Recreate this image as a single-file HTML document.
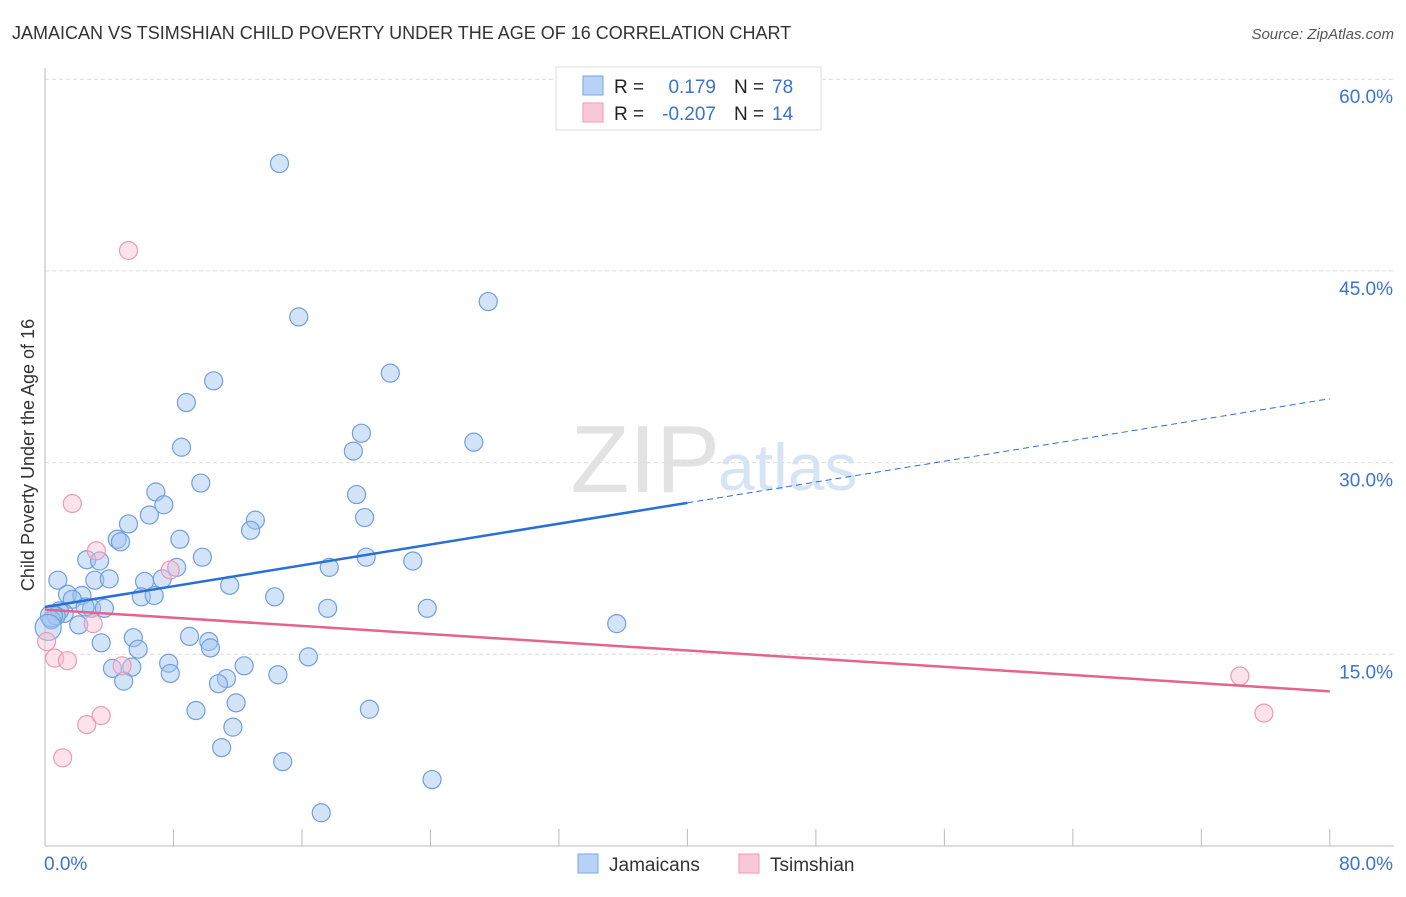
<!DOCTYPE html>
<html><head><meta charset="utf-8"><style>
body{margin:0;background:#fff;font-family:"Liberation Sans",sans-serif;}
svg text{font-family:"Liberation Sans",sans-serif;}
</style></head><body>
<svg id="chart" width="1406" height="892">
<text x="12" y="39" font-size="18" fill="#333">JAMAICAN VS TSIMSHIAN CHILD POVERTY UNDER THE AGE OF 16 CORRELATION CHART</text>
<text x="1394" y="39" font-size="15" fill="#555" font-style="italic" text-anchor="end">Source: ZipAtlas.com</text>
<text x="720" y="492" font-size="96" fill="#e2e2e2" font-family="Liberation Serif" text-anchor="end">ZIP</text>
<text x="718" y="490" font-size="66" fill="#d6e4f5">atlas</text>
<g id="grid"></g><g id="axes"></g><g id="marks"></g>
<text transform="translate(34,455) rotate(-90)" font-size="18" fill="#333" text-anchor="middle">Child Poverty Under the Age of 16</text>
<g>
<rect x="556" y="67" width="265" height="63" fill="#fff" stroke="#ddd"/>
<rect x="583" y="76" width="20" height="19" fill="#b8d3f5" stroke="#7aa6e6"/>
<rect x="583" y="103" width="20" height="19" fill="#f9c8d8" stroke="#ee9ab7"/>
<text x="614" y="93" font-size="19" fill="#222">R =</text><text x="716" y="93" font-size="19" fill="#3a73d0" text-anchor="end">0.179</text>
<text x="734" y="93" font-size="19" fill="#222">N =</text><text x="772" y="93" font-size="19" fill="#3a73d0">78</text>
<text x="614" y="120" font-size="19" fill="#222">R =</text><text x="716" y="120" font-size="19" fill="#3a73d0" text-anchor="end">-0.207</text>
<text x="734" y="120" font-size="19" fill="#222">N =</text><text x="772" y="120" font-size="19" fill="#3a73d0">14</text>
</g>
<g>
<rect x="578" y="854" width="20" height="19" fill="#b8d3f5" stroke="#7aa6e6"/>
<text x="609" y="871" font-size="19" fill="#333">Jamaicans</text>
<rect x="739" y="854" width="20" height="19" fill="#f9c8d8" stroke="#ee9ab7"/>
<text x="770" y="871" font-size="19" fill="#333">Tsimshian</text>
</g>
</svg>
<script>
const yTicks=[15,30,45,60];
const xTickLabels=["0.0%","80.0%"];
const blueX=[14.6,27.6,15.8,21.5,10.5,8.8,19.7,26.7,8.5,19.2,9.7,6.9,19.4,7.4,6.5,19.9,13.1,5.2,12.8,4.5,4.7,8.4,9.8,20.0,2.6,3.4,22.9,17.7,8.2,0.8,3.1,4.0,6.2,7.3,11.5,1.4,2.3,1.7,14.3,6.0,6.8,2.9,3.7,1.2,0.9,17.6,23.8,0.7,0.4,2.1,35.6,5.5,9.0,10.2,3.5,10.3,5.8,7.7,12.4,4.2,5.4,7.8,14.5,4.9,11.3,10.8,16.4,11.9,9.4,20.2,11.7,11.0,14.8,24.1,17.2,0.4,0.2,2.5];
const blueY=[53.4,42.6,41.4,37.0,36.4,34.7,32.3,31.6,31.2,30.9,28.4,27.7,27.5,26.7,25.9,25.7,25.5,25.2,24.7,24.0,23.8,24.0,22.6,22.6,22.4,22.3,22.3,21.8,21.8,20.8,20.8,20.9,20.7,20.9,20.4,19.7,19.6,19.3,19.5,19.5,19.6,18.6,18.6,18.2,18.4,18.6,18.6,18.0,17.7,17.3,17.4,16.3,16.4,16.0,15.9,15.5,15.4,14.3,14.1,13.9,14.0,13.5,13.4,12.9,13.1,12.7,14.8,11.2,10.6,10.7,9.3,7.7,6.6,5.2,2.6,18.0,17.1,18.7];
const blueR=[9,9,9,9,9,9,9,9,9,9,9,9,9,9,9,9,9,9,9,9,9,9,9,9,9,9,9,9,9,9,9,9,9,9,9,9,9,9,9,9,9,9,9,9,9,9,9,9,9,9,9,9,9,9,9,9,9,9,9,9,9,9,9,9,9,9,9,9,9,9,9,9,9,9,9,11,13,9];
const pinkX=[5.2,1.7,3.2,7.8,3.0,0.1,0.6,1.4,4.8,3.5,2.6,1.1,74.4,75.9];
const pinkY=[46.6,26.8,23.1,21.6,17.4,16.0,14.7,14.5,14.1,10.2,9.5,6.9,13.3,10.4];
const blueTrend=[18.7,35.0];
const pinkTrend=[18.5,12.1];
const NS='http://www.w3.org/2000/svg';
const X=v=>45+v*16.06, Y=v=>846-v*12.78;
function mk(g,t,a){const e=document.createElementNS(NS,t);for(const k in a)e.setAttribute(k,a[k]);document.getElementById(g).appendChild(e);return e;}
yTicks.forEach(t=>{
 const l=mk('grid','line',{x1:45,x2:1394,y1:Y(t),y2:Y(t),stroke:'#ddd','stroke-dasharray':'4,3'});
 
 
 const tx=mk('axes','text',{x:1393,y:Y(t)+24,'font-size':19,fill:'#3a73d0','text-anchor':'end'});tx.textContent=t.toFixed(1)+'%';
 
 
});
mk('axes','line',{x1:45,x2:45,y1:68,y2:846,stroke:'#bbb'});
mk('axes','line',{x1:45,x2:1394,y1:846,y2:846,stroke:'#bbb'});
for(let i=0;i<=10;i++){mk('axes','line',{x1:X(i*8),x2:X(i*8),y1:829,y2:846,stroke:'#bbb'});}
const xl0=mk('axes','text',{x:44,y:870,'font-size':19,fill:'#3a73d0'});xl0.textContent=xTickLabels[0];


const xl1=mk('axes','text',{x:1393,y:870,'font-size':19,fill:'#3a73d0','text-anchor':'end'});xl1.textContent=xTickLabels[1];


blueX.forEach((x,i)=>{const c=mk('marks','circle',{cx:X(x),cy:Y(blueY[i]),r:blueR[i],fill:'rgba(160,195,240,0.45)',stroke:'#6f9fe0','stroke-width':1.2});
 
 });
pinkX.forEach((x,i)=>{const c=mk('marks','circle',{cx:X(x),cy:Y(pinkY[i]),r:9,fill:'rgba(248,190,210,0.45)',stroke:'#eb9ab6','stroke-width':1.2});
 
 });
const bv=x=>blueTrend[0]+(blueTrend[1]-blueTrend[0])*x/80;
const b1=mk('marks','line',{x1:X(0),y1:Y(bv(0)),x2:X(40),y2:Y(bv(40)),stroke:'#2a6fd6','stroke-width':2.5});


const b2=mk('marks','line',{x1:X(40),y1:Y(bv(40)),x2:X(80),y2:Y(bv(80)),stroke:'#2a6fd6','stroke-width':1,'stroke-dasharray':'6,4'});


const p1=mk('marks','line',{x1:X(0),y1:Y(pinkTrend[0]),x2:X(80),y2:Y(pinkTrend[1]),stroke:'#e5638f','stroke-width':2.5});


</script>
</body></html>
